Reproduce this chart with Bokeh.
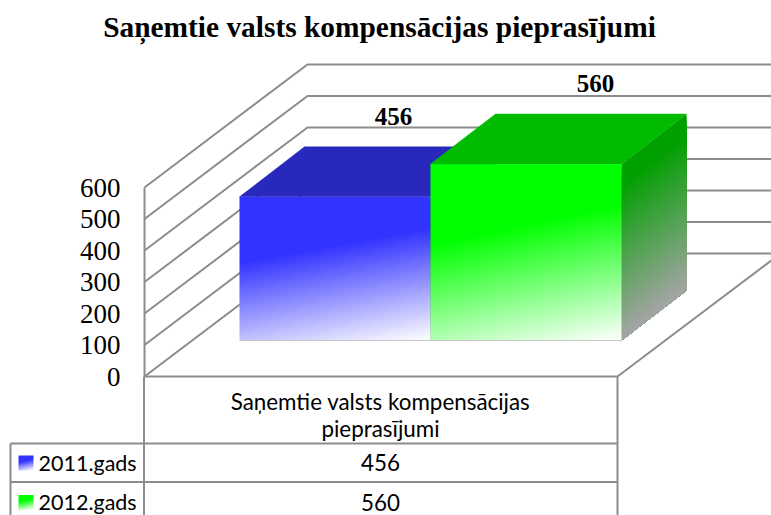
import numpy as np
from bokeh.plotting import figure
from bokeh.models import Range1d
from bokeh.core.properties import value
from bokeh.embed import file_html
from bokeh.resources import INLINE

title = "Saņemtie valsts kompensācijas pieprasījumi"
category = ["Saņemtie valsts kompensācijas", "pieprasījumi"]
series = ["2011.gads", "2012.gads"]
values = [456, 560]
ticks = [0, 100, 200, 300, 400, 500, 600]

SC = 0.315          # px per value unit
Y0 = 376            # screen y of value 0 at the front
W, H = 771, 515
def Y(px):          # screen px -> value coordinates
    return (Y0 - px) / SC

p = figure(width=W, height=H, output_backend="svg", toolbar_location=None,
           x_range=Range1d(0, 771), y_range=Range1d(Y(515), Y(0)),
           min_border=0, outline_line_color=None, background_fill_color="white")
p.axis.visible = False
p.grid.visible = False

GRID = "#8c8c8c"
WALL_DX, WALL_DY = 163, 123 / SC
FX0, FX1 = 144, 617
# walls and floor
for t in ticks:
    p.line([FX0, FX0 + WALL_DX, 790], [t, t + WALL_DY, t + WALL_DY], line_color=GRID, line_width=2)
p.line([FX0, FX0], [0, ticks[-1]], line_color=GRID, line_width=2)
p.line([FX0, FX1, FX1 + WALL_DX], [0, 0, WALL_DY], line_color=GRID, line_width=2)

# bars
BAR_X = 239
BAR_W = 191
BASE = Y(340)
DEPTH_X, DEPTH_Y = 65, 50 / SC
front = [(51, 51, 255), (0, 255, 0)]
topc = ["#2828bc", "#00bb00"]
side0 = [(30, 30, 160), (0, 160, 0)]
side1 = (165, 165, 165)

def grad_img(w, h, col):
    yy, xx = np.mgrid[0:h, 0:w]
    u = xx / max(w - 1, 1)
    v = 1 - yy / max(h - 1, 1)     # row 0 is the bottom
    t = np.clip((0.19 * u + 0.81 * v - 0.37) / 0.63, 0, 1)
    img = np.zeros((h, w, 4), dtype=np.uint8)
    for c in range(3):
        img[..., c] = (col[c] + (255 - col[c]) * t).astype(np.uint8)
    img[..., 3] = 255
    return img.view(dtype=np.uint32).reshape((h, w))

for i, val in enumerate(values):
    x0 = BAR_X + i * BAR_W
    x1 = x0 + BAR_W
    top = BASE + val
    # side: painted from the top down, each strip reaching the base, so no seams show
    n = 60
    edges = np.linspace(top, BASE, n + 1)
    xs, ys, cols = [], [], []
    for k in range(n):
        tt = np.clip((k / (n - 1) - 0.1) / 0.9, 0, 1)
        c = [int(side0[i][j] + (side1[j] - side0[i][j]) * tt) for j in range(3)]
        xs.append([x1, x1 + DEPTH_X, x1 + DEPTH_X, x1])
        ys.append([edges[k], edges[k] + DEPTH_Y, BASE + DEPTH_Y, BASE])
        cols.append("#%02x%02x%02x" % tuple(c))
    p.patches(xs, ys, fill_color=cols, line_color=None)
    # top
    p.patch([x0, x0 + DEPTH_X, x1 + DEPTH_X, x1], [top, top + DEPTH_Y, top + DEPTH_Y, top],
            fill_color=topc[i], line_color=topc[i], line_width=0.5)
    # front
    h_px = int(round(val * SC))
    p.image_rgba(image=[grad_img(BAR_W, h_px, front[i])], x=x0, y=BASE, dw=BAR_W, dh=val)
    p.line([x0, x1], [BASE, BASE], line_color="#c8c8c8", line_width=1)

# value labels
lab_x = [393, 595]
lab_y = [116, 83]
SERIF = value("Liberation Serif")
p.text(lab_x, [Y(v) for v in lab_y], text=[str(v) for v in values], text_font=SERIF,
       text_font_style="bold", text_font_size="25px", text_align="center",
       text_baseline="middle", text_color="black")

# y tick labels
p.text([120] * len(ticks), ticks, text=[str(t) for t in ticks], text_font=SERIF,
       text_font_size="27px", text_align="right", text_baseline="middle", text_color="black")

# title
p.text([379], [Y(26.5)], text=[title], text_font=SERIF, text_font_style="bold",
       text_font_size="29.4px", text_align="center", text_baseline="middle", text_color="black")

# data table
TAB = "#8c8c8c"
for xp in [143.5, FX1]:
    p.line([xp, xp], [0, Y(520)], line_color=TAB, line_width=2)
p.line([10, 10], [Y(443), Y(520)], line_color=TAB, line_width=2)
for yp in [443, 481.5]:
    p.line([10, FX1], [Y(yp), Y(yp)], line_color=TAB, line_width=2)

SANS = value("Lato")
p.text([380, 380], [Y(401), Y(428)], text=category, text_font=SANS, text_font_size="22.4px",
       text_align="center", text_baseline="middle", text_color="black")
row_y = [462, 501.5]
p.text([380, 380], [Y(v) for v in row_y], text=[str(v) for v in values], text_font=SANS,
       text_font_size="22.4px", text_align="center", text_baseline="middle", text_color="black")
p.text([38, 38], [Y(v) for v in row_y], text=series, text_font=SANS, text_font_size="21.5px",
       text_align="left", text_baseline="middle", text_color="black")
for i, yp in enumerate(row_y):
    p.image_rgba(image=[grad_img(15, 15, front[i])], x=18, y=Y(yp + 8), dw=15, dh=15 / SC)

open("out.html", "w").write(file_html(p, INLINE))
